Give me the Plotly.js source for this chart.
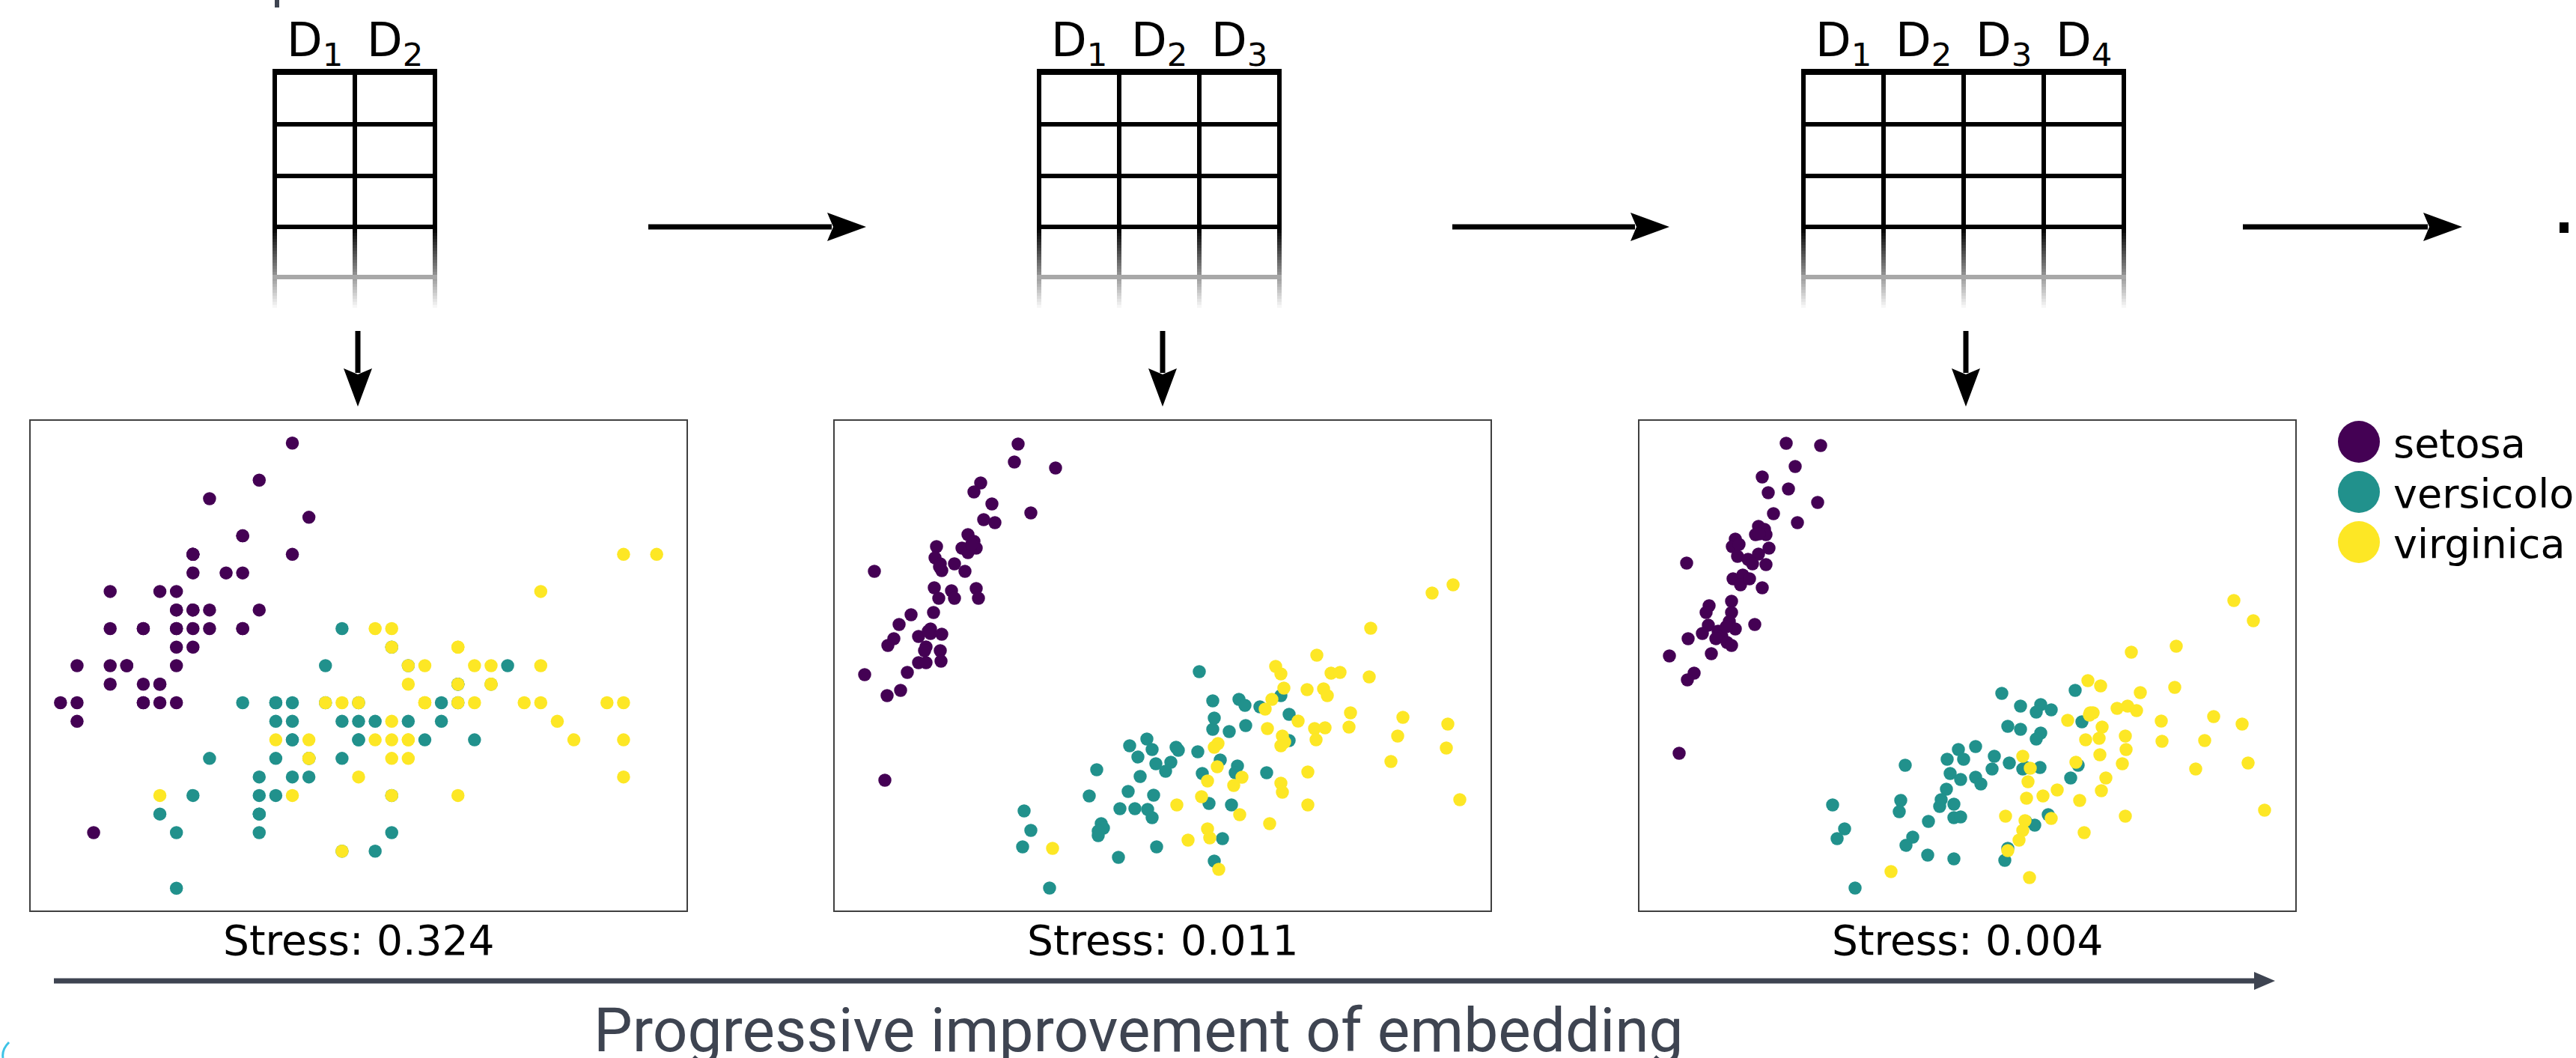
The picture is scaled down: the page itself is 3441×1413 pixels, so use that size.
<!DOCTYPE html>
<html><head><meta charset="utf-8">
<script src="https://cdn.plot.ly/plotly-3.0.1.min.js"></script>
<style>html,body{margin:0;padding:0;background:#fff;overflow:hidden}#chart{width:3441px;height:1413px}</style>
</head><body><div id="chart"></div>
<script>
// ---------------- DATA ----------------
const species = ['setosa', 'versicolor', 'virginica'];
const speciesColors = ['#440154', '#21918c', '#fde725'];
const stressLabels = ['Stress: 0.324', 'Stress: 0.011', 'Stress: 0.004'];
const tableDims = [2, 3, 4];
const bottomCaption = 'Progressive improvement of embedding';

// Panel 1 (D1, D2): sepal length vs sepal width
const p1SetosaX = [5.1,4.9,4.7,4.6,5.0,5.4,4.6,5.0,4.4,4.9,5.4,4.8,4.8,4.3,5.8,5.7,5.4,5.1,5.7,5.1,5.4,5.1,4.6,5.1,4.8,5.0,5.0,5.2,5.2,4.7,4.8,5.4,5.2,5.5,4.9,5.0,5.5,4.9,4.4,5.1,5.0,4.5,4.4,5.0,5.1,4.8,5.1,4.6,5.3,5.0];
const p1SetosaY = [3.5,3.0,3.2,3.1,3.6,3.9,3.4,3.4,2.9,3.1,3.7,3.4,3.0,3.0,4.0,4.4,3.9,3.5,3.8,3.8,3.4,3.7,3.6,3.3,3.4,3.0,3.4,3.5,3.4,3.2,3.1,3.4,4.1,4.2,3.1,3.2,3.5,3.6,3.0,3.4,3.5,2.3,3.2,3.5,3.8,3.0,3.8,3.2,3.7,3.3];
const p1VersicolorX = [7.0,6.4,6.9,5.5,6.5,5.7,6.3,4.9,6.6,5.2,5.0,5.9,6.0,6.1,5.6,6.7,5.6,5.8,6.2,5.6,5.9,6.1,6.3,6.1,6.4,6.6,6.8,6.7,6.0,5.7,5.5,5.5,5.8,6.0,5.4,6.0,6.7,6.3,5.6,5.5,5.5,6.1,5.8,5.0,5.6,5.7,5.7,6.2,5.1,5.7];
const p1VersicolorY = [3.2,3.2,3.1,2.3,2.8,2.8,3.3,2.4,2.9,2.7,2.0,3.0,2.2,2.9,2.9,3.1,3.0,2.7,2.2,2.5,3.2,2.8,2.5,2.8,2.9,3.0,2.8,3.0,2.9,2.6,2.4,2.4,2.7,2.7,3.0,3.4,3.1,2.3,3.0,2.5,2.6,3.0,2.6,2.3,2.7,3.0,2.9,2.9,2.5,2.8];
const p1VirginicaX = [6.3,5.8,7.1,6.3,6.5,7.6,4.9,7.3,6.7,7.2,6.5,6.4,6.8,5.7,5.8,6.4,6.5,7.7,7.7,6.0,6.9,5.6,7.7,6.3,6.7,7.2,6.2,6.1,6.4,7.2,7.4,7.9,6.4,6.3,6.1,7.7,6.3,6.4,6.0,6.9,6.7,6.9,5.8,6.8,6.7,6.7,6.3,6.5,6.2,5.9];
const p1VirginicaY = [3.3,2.7,3.0,2.9,3.0,3.0,2.5,2.9,2.5,3.6,3.2,2.7,3.0,2.5,2.8,3.2,3.0,3.8,2.6,2.2,3.2,2.8,2.8,2.7,3.3,3.2,2.8,3.0,2.8,3.0,2.8,3.8,2.8,2.8,2.6,3.0,3.4,3.1,3.0,3.1,3.1,3.1,2.7,3.2,3.3,3.0,2.5,3.0,3.4,3.0];

// Panel 2 (D1..D3 embedding)
const p2SetosaX = [-1.93,-1.98,-1.43,-2.43,-2.52,-2.28,-1.76,-2.39,-2.24,-2.60,-2.52,-2.49,-2.68,-2.60,-3.02,-3.04,-2.97,-2.95,-2.78,-2.64,-3.85,-3.05,-2.99,-2.82,-2.78,-2.49,-2.46,-3.36,-3.06,-3.52,-3.10,-3.10,-2.95,-3.26,-3.59,-3.67,-3.16,-3.18,-2.97,-2.96,-3.26,-3.16,-3.41,-3.98,-3.50,-3.68,-3.71,-2.55,-2.98,-3.13];
const p2SetosaY = [2.96,2.72,2.64,2.44,2.32,2.16,2.04,1.95,1.91,1.75,1.66,1.57,1.57,1.51,1.59,1.44,1.36,1.27,1.36,1.26,1.26,1.04,0.90,1.00,0.90,1.03,0.90,0.68,0.71,0.55,0.49,0.43,0.42,0.39,0.36,0.27,0.25,0.20,0.20,0.06,0.04,0.04,-0.09,-0.12,-0.33,-0.40,-1.53,1.62,1.32,0.46];
const p2VersicolorX = [0.49,0.67,1.02,1.10,1.30,1.58,1.69,0.69,0.67,1.11,0.89,1.69,-0.21,-0.44,-0.14,0.18,0.21,0.47,-0.33,-0.09,0.11,0.04,0.77,1.00,0.97,0.53,1.39,-0.88,-0.30,-0.98,-0.46,-0.12,-0.57,-0.37,-0.20,-0.14,0.62,0.92,-1.85,-0.82,-0.79,-0.86,-1.76,-1.87,-0.08,-0.59,0.80,0.69,-1.51,-0.86];
const p2VersicolorY = [-0.08,-0.47,-0.45,-0.53,-0.55,-0.40,-0.65,-0.70,-0.85,-0.80,-0.88,-1.00,-0.98,-1.07,-1.12,-1.09,-1.13,-1.15,-1.22,-1.31,-1.29,-1.41,-1.26,-1.34,-1.43,-1.44,-1.43,-1.39,-1.48,-1.74,-1.68,-1.73,-1.91,-1.91,-1.92,-2.03,-1.84,-1.86,-1.94,-2.11,-2.17,-2.27,-2.20,-2.42,-2.42,-2.56,-2.31,-2.61,-2.97,-2.21];
const p2VirginicaX = [3.88,3.60,2.78,2.06,1.51,1.58,2.25,2.37,2.76,1.62,1.93,2.15,2.20,1.46,1.37,2.51,3.21,1.81,1.40,2.03,2.17,2.49,3.81,1.60,1.63,1.58,2.05,3.14,3.79,0.74,0.69,3.05,0.73,1.06,0.60,0.95,1.94,1.58,1.60,0.52,0.19,1.94,3.97,1.03,1.43,0.60,0.63,0.34,-1.47,0.75];
const p2VirginicaY = [1.08,0.97,0.50,0.14,-0.01,-0.11,-0.10,-0.09,-0.15,-0.30,-0.32,-0.31,-0.40,-0.45,-0.58,-0.63,-0.69,-0.74,-0.84,-0.84,-0.83,-0.82,-0.78,-0.94,-1.02,-1.07,-0.99,-0.94,-1.10,-1.04,-1.09,-1.28,-1.35,-1.49,-1.54,-1.60,-1.42,-1.57,-1.69,-1.75,-1.86,-1.86,-1.79,-1.99,-2.11,-2.18,-2.30,-2.33,-2.44,-2.72];

// Panel 3 (D1..D4 embedding)
const p3SetosaX = [-2.42,-1.96,-2.30,-2.74,-2.66,-2.39,-2.00,-2.59,-2.27,-2.79,-2.71,-2.83,-2.69,-3.10,-3.14,-3.05,-2.65,-2.79,-3.07,-2.93,-2.87,-2.69,-3.75,-3.13,-3.00,-3.03,-2.91,-2.74,-3.15,-3.45,-3.49,-3.15,-3.18,-3.10,-2.84,-3.46,-3.54,-3.33,-3.28,-3.36,-3.21,-3.15,-3.73,-3.42,-3.98,-3.65,-3.74,-3.85,-3.22,-2.78];
const p3SetosaY = [2.97,2.94,2.66,2.52,2.31,2.36,2.18,2.03,1.91,1.86,1.82,1.75,1.75,1.69,1.59,1.62,1.57,1.49,1.46,1.42,1.36,1.35,1.37,1.16,1.21,1.08,1.16,1.04,0.86,0.80,0.71,0.71,0.59,0.49,0.55,0.54,0.43,0.46,0.39,0.36,0.31,0.27,0.36,0.16,0.13,-0.10,-0.19,-1.17,0.52,1.76];
const p3VersicolorX = [0.46,0.71,0.98,0.92,1.12,1.44,1.53,0.54,0.71,0.98,0.92,-0.12,0.11,-0.27,-0.05,0.36,0.33,0.56,0.74,0.97,1.48,1.38,-0.83,-0.23,-0.09,0.11,0.18,-0.28,-0.35,-0.37,-0.18,-0.89,-0.91,-0.52,-0.18,-0.09,-1.80,-1.64,-1.74,-0.73,-0.82,-0.53,-0.18,0.90,1.08,0.54,0.50,-1.50,0.78,0.78];
const p3VersicolorY = [-0.37,-0.54,-0.52,-0.62,-0.59,-0.33,-0.75,-0.81,-0.85,-0.90,-0.98,-1.12,-1.08,-1.25,-1.25,-1.21,-1.38,-1.30,-1.38,-1.36,-1.33,-1.50,-1.33,-1.44,-1.52,-1.49,-1.58,-1.65,-1.79,-1.88,-1.85,-1.80,-1.95,-2.08,-2.03,-2.02,-1.86,-2.18,-2.31,-2.29,-2.40,-2.53,-2.58,-2.13,-1.99,-2.44,-2.60,-2.97,-1.36,-2.08];
const p3VirginicaX = [3.56,3.82,2.79,2.19,1.61,1.78,2.31,2.77,2.00,2.14,2.26,1.68,1.63,1.34,2.59,3.29,3.67,1.80,1.58,1.76,2.11,2.12,2.60,3.17,1.77,0.74,1.45,2.07,3.05,3.75,0.84,0.81,1.85,1.20,1.79,0.79,1.01,1.50,0.51,1.12,0.77,0.74,0.69,2.11,3.97,1.56,0.54,-1.02,0.83,1.64];
const p3VirginicaY = [0.87,0.60,0.26,0.18,-0.20,-0.27,-0.36,-0.29,-0.57,-0.54,-0.60,-0.63,-0.66,-0.73,-0.74,-0.68,-0.78,-0.82,-0.99,-0.97,-0.94,-1.12,-1.01,-1.00,-1.19,-1.21,-1.29,-1.31,-1.38,-1.30,-1.37,-1.55,-1.50,-1.66,-1.67,-1.77,-1.74,-1.80,-2.01,-2.04,-2.07,-2.20,-2.33,-2.01,-1.93,-2.23,-2.47,-2.75,-2.83,-0.63];

// ---------------- LAYOUT CONSTANTS ----------------
const W = 3441, H = 1413;
const PX = v => v / W, PY = v => 1 - v / H;
const panelLeft = [41, 1115, 2190], panelWidth = 876, panelTop = 562, panelBottom = 1216;
const tableLeft = [367, 1388, 2409], cellW = 107, rowLines = [96, 166, 235, 303], grayLineY = 370, fadeEnd = 412;
const arrowsH = [[866, 1157], [1940, 2230], [2996, 3289]], arrowHY = 303;
const arrowsDownX = [478, 1553, 2626], arrowDownTop = 442, arrowDownTip = 543;
const legendX = 3151, legendY0 = 590, legendDY = 67, legendD = 56;

const panels = [
  {xs:[p1SetosaX,p1VersicolorX,p1VirginicaX], ys:[p1SetosaY,p1VersicolorY,p1VirginicaY], xr:[4.12,8.08], yr:[1.88,4.52]},
  {xs:[p2SetosaX,p2VersicolorX,p2VirginicaX], ys:[p2SetosaY,p2VersicolorY,p2VirginicaY], xr:[-4.38,4.38], yr:[-3.27,3.27]},
  {xs:[p3SetosaX,p3VersicolorX,p3VirginicaX], ys:[p3SetosaY,p3VersicolorY,p3VirginicaY], xr:[-4.38,4.38], yr:[-3.27,3.27]}
];

const traces = [];
const layout = {
  width: W, height: H, autosize: false,
  margin: {l:0, r:0, t:0, b:0, pad:0},
  paper_bgcolor: '#ffffff', plot_bgcolor: '#ffffff',
  showlegend: false, shapes: [], annotations: []
};

panels.forEach((p, i) => {
  const sfx = i === 0 ? '' : String(i + 1);
  for (let s = 0; s < 3; s++) {
    traces.push({
      type: 'scatter', mode: 'markers', name: species[s],
      x: p.xs[s], y: p.ys[s],
      xaxis: 'x' + sfx, yaxis: 'y' + sfx,
      marker: {color: speciesColors[s], size: 17.5, line: {width: 0}},
      hoverinfo: 'skip'
    });
  }
  const ax = {showline: true, mirror: true, linecolor: '#404040', linewidth: 2,
    showgrid: false, zeroline: false, showticklabels: false, ticks: '', fixedrange: true};
  layout['xaxis' + sfx] = Object.assign({}, ax, {domain: [PX(panelLeft[i]), PX(panelLeft[i] + panelWidth)], range: p.xr, anchor: 'y' + sfx});
  layout['yaxis' + sfx] = Object.assign({}, ax, {domain: [PY(panelBottom), PY(panelTop)], range: p.yr, anchor: 'x' + sfx});
  layout.annotations.push({
    xref: 'paper', yref: 'paper', x: PX(panelLeft[i] + panelWidth / 2), y: PY(1256),
    xanchor: 'center', yanchor: 'middle', showarrow: false, text: stressLabels[i],
    font: {family: 'DejaVu Sans', size: 55, color: '#000'}
  });
});

const S = layout.shapes;
function line(x0, y0, x1, y1, color, w) {
  S.push({type: 'line', xref: 'paper', yref: 'paper', x0: PX(x0), y0: PY(y0), x1: PX(x1), y1: PY(y1), line: {color: color, width: w}});
}
function path(pts, color) {
  const d = 'M ' + pts.map(p => PX(p[0]) + ',' + PY(p[1])).join(' L ') + ' Z';
  S.push({type: 'path', xref: 'paper', yref: 'paper', path: d, fillcolor: color, line: {width: 0}});
}
function grayHex(L) { const v = Math.round(255 * Math.min(1, Math.max(0, L))); const h = v.toString(16).padStart(2, '0'); return '#' + h + h + h; }

// tables
tableDims.forEach((n, t) => {
  const left = tableLeft[t], right = left + n * cellW;
  for (let c = 0; c <= n; c++) {
    const x = left + c * cellW;
    line(x, rowLines[0], x, rowLines[3], '#000', 6);
    for (let y = rowLines[3]; y < fadeEnd; y += 4) {
      line(x, y, x, y + 4.5, grayHex((y - 303) / 108), 6);
    }
  }
  rowLines.forEach((y, k) => line(left - 3, y, right + 3, y, '#000', k === 0 ? 8 : 6));
  line(left - 3, grayLineY, right + 3, grayLineY, '#a8a8a8', 6);
  for (let c = 0; c < n; c++) {
    layout.annotations.push({
      xref: 'paper', yref: 'paper', x: PX(left + (c + 0.5) * cellW), y: PY(58),
      xanchor: 'center', yanchor: 'middle', showarrow: false,
      text: 'D<sub>' + (c + 1) + '</sub>', font: {family: 'DejaVu Sans', size: 62, color: '#000'}
    });
  }
});

// horizontal arrows between tables
arrowsH.forEach(a => {
  const tip = a[1], hl = 52, hh = 19;
  line(a[0], arrowHY, tip - hl + 6, arrowHY, '#000', 7);
  path([[tip, arrowHY], [tip - hl, arrowHY - hh], [tip - hl + 8, arrowHY], [tip - hl, arrowHY + hh]], '#000');
});
// down arrows
arrowsDownX.forEach(x => {
  const hl = 51, hh = 19;
  line(x, arrowDownTop, x, arrowDownTip - hl + 6, '#000', 7);
  path([[x, arrowDownTip], [x - hh, arrowDownTip - hl], [x, arrowDownTip - hl + 8], [x + hh, arrowDownTip - hl]], '#000');
});
// trailing dot of the sequence
S.push({type: 'rect', xref: 'paper', yref: 'paper', x0: PX(3419), x1: PX(3431), y0: PY(311), y1: PY(297), fillcolor: '#000', line: {width: 0}});
// cut-off glyph at top
S.push({type: 'rect', xref: 'paper', yref: 'paper', x0: PX(367), x1: PX(373), y0: PY(10), y1: PY(0), fillcolor: '#3e4451', line: {width: 0}});

// bottom progress arrow
line(72, 1310, 3016, 1310, '#3e4451', 7);
path([[3039, 1310], [3011, 1298], [3011, 1322]], '#3e4451');
layout.annotations.push({
  xref: 'paper', yref: 'paper', x: PX(1521), y: PY(1376), xanchor: 'center', yanchor: 'middle', showarrow: false,
  text: bottomCaption, font: {family: 'Roboto, Liberation Sans, sans-serif', size: 82, color: '#3e4451'}
});
// small cyan mark at bottom-left
S.push({type: 'path', xref: 'paper', yref: 'paper', path: 'M ' + PX(12) + ',' + PY(1392) + ' Q ' + PX(2) + ',' + PY(1402) + ' ' + PX(4) + ',' + PY(1413), line: {color: '#3ec3e6', width: 3}});

// legend
species.forEach((sp, k) => {
  const cy = legendY0 + k * legendDY;
  S.push({type: 'circle', xref: 'paper', yref: 'paper',
    x0: PX(legendX - legendD / 2), x1: PX(legendX + legendD / 2), y0: PY(cy + legendD / 2), y1: PY(cy - legendD / 2),
    fillcolor: speciesColors[k], line: {width: 0}});
  layout.annotations.push({
    xref: 'paper', yref: 'paper', x: PX(legendX + 44), y: PY(cy + 2), xanchor: 'left', yanchor: 'middle', showarrow: false,
    text: sp, font: {family: 'DejaVu Sans', size: 54, color: '#000'}
  });
});

Plotly.newPlot('chart', traces, layout, {displayModeBar: false, staticPlot: true});
</script></body></html>
